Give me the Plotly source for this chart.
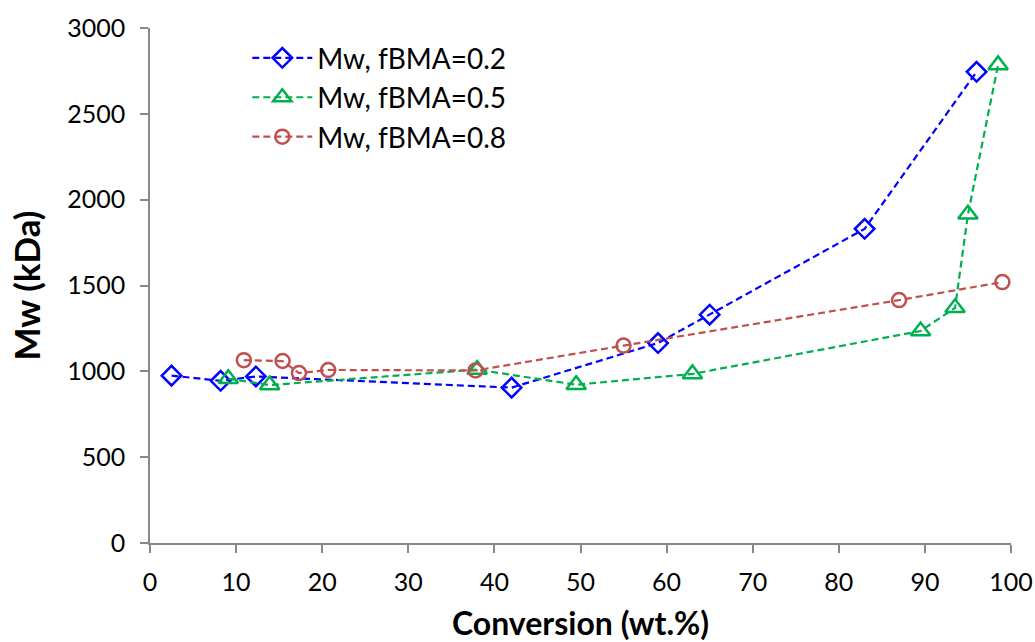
import plotly.graph_objects as go

# Conversion (wt.%) and weight-average molar mass Mw (kDa) for each BMA feed fraction
conv_02 = [2.5, 8.2, 12.3, 42.0, 59.0, 65.0, 83.0, 96.0]
mw_02 = [975, 945, 970, 905, 1165, 1330, 1830, 2745]

conv_05 = [9.1, 13.9, 38.0, 49.5, 63.0, 89.5, 93.5, 95.0, 98.5]
mw_05 = [957, 920, 1010, 922, 985, 1235, 1370, 1915, 2785]

conv_08 = [10.9, 15.4, 17.3, 20.7, 37.8, 55.0, 87.0, 99.0]
mw_08 = [1065, 1060, 990, 1008, 1005, 1150, 1415, 1520]

series = [
    ("Mw, fBMA=0.2", conv_02, mw_02, "#0000FF", "diamond-open", 15),
    ("Mw, fBMA=0.5", conv_05, mw_05, "#00B050", "triangle-up-open", 17),
    ("Mw, fBMA=0.8", conv_08, mw_08, "#C0504D", "circle-open", 14),
]

font_family = "Lato, 'Open Sans', sans-serif"

fig = go.Figure()
for name, x, y, color, symbol, size in series:
    fig.add_trace(go.Scatter(
        x=x, y=y, name=name, mode="lines+markers",
        line=dict(color=color, width=2.2, dash="7px,4px"),
        marker=dict(symbol=symbol, size=size, color=color,
                    line=dict(color=color, width=2.5)),
    ))

axis_common = dict(
    showgrid=False, zeroline=False, showline=True, automargin=False,
    linecolor="#888888", linewidth=1.5,
    ticks="outside", tickcolor="#888888", ticklen=8, tickwidth=1.5,
    tickfont=dict(family=font_family, size=25, color="#000000"),
)

fig.update_layout(
    width=1035, height=642,
    paper_bgcolor="white", plot_bgcolor="white",
    margin=dict(l=150, r=24, t=28, b=99),
    font=dict(family=font_family, color="#000000"),
    xaxis=dict(
        range=[0, 100], tickvals=list(range(0, 101, 10)),
        ticklabelstandoff=8,
        title=dict(text="<b>Conversion (wt.%)</b>",
                   font=dict(family=font_family, size=32), standoff=20),
        **axis_common,
    ),
    yaxis=dict(
        range=[0, 3000], tickvals=list(range(0, 3001, 500)),
        ticklabelstandoff=10,
        title=dict(text="<b>Mw (kDa)</b>",
                   font=dict(family=font_family, size=35), standoff=16),
        **axis_common,
    ),
    legend=dict(
        x=0.113, y=0.99, xanchor="left", yanchor="top",
        bgcolor="rgba(0,0,0,0)",
        font=dict(family=font_family, size=28, color="#000000"),
        tracegroupgap=2, itemwidth=60,
    ),
)

fig.write_html("out.html")
